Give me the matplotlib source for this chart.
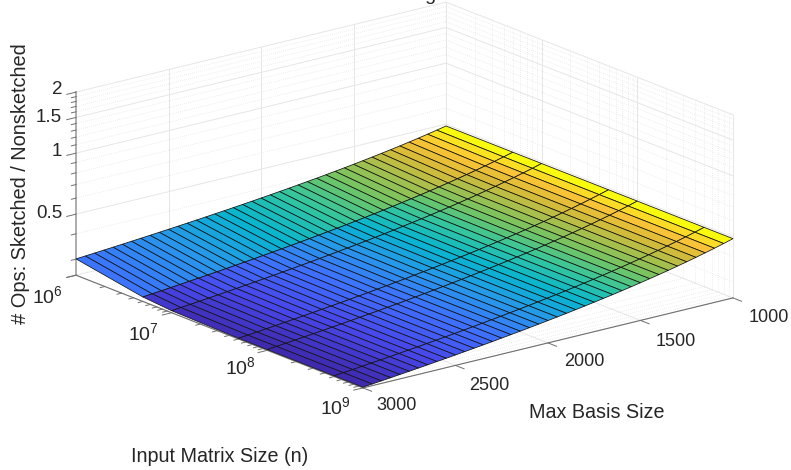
import numpy as np
import matplotlib
matplotlib.use('Agg')
import matplotlib.pyplot as plt
from matplotlib.colors import LinearSegmentedColormap

# values
basis_sizes = list(range(1000, 3001, 50))
log_n_values = [6.0, 6.699, 7.0, 7.699, 8.0, 8.699, 9.0]

ratio_n_1e6 = [.4900, .4795, .4697, .4605, .4519, .4438, .4361, .4289, .4220, .4155, .4093,
               .4034, .3977, .3923, .3871, .3822, .3775, .3729, .3685, .3643, .3602,
               .3563, .3525, .3488, .3453, .3419, .3385, .3353, .3322, .3291, .3262,
               .3234, .3206, .3179, .3153, .3127, .3102, .3078, .3054, .3031, .3009]
ratio_n_5e6 = [.4900, .4766, .4643, .4528, .4419, .4318, .4224, .4134, .4050, .3971, .3895,
               .3824, .3755, .3690, .3628, .3570, .3513, .3459, .3407, .3357, .3310,
               .3264, .3220, .3177, .3136, .3096, .3058, .3021, .2985, .2950, .2917,
               .2884, .2853, .2822, .2793, .2764, .2736, .2708, .2682, .2657, .2631]
ratio_n_1e7 = [.4900, .4760, .4632, .4512, .4399, .4294, .4197, .4103, .4016, .3934, .3856,
               .3782, .3711, .3644, .3581, .3521, .3461, .3406, .3353, .3302, .3254,
               .3206, .3161, .3117, .3075, .3034, .2995, .2957, .2921, .2885, .2851,
               .2818, .2786, .2754, .2725, .2695, .2666, .2638, .2612, .2586, .2560]
ratio_n_large = [.4900, .4757, .4626, .4503, .4388, .4281, .4181, .4086, .3997, .3914, .3834,
                 .3759, .3687, .3619, .3554, .3493, .3433, .3377, .3323, .3271, .3222,
                 .3174, .3128, .3084, .3041, .3000, .2960, .2922, .2885, .2849, .2815,
                 .2781, .2749, .2717, .2687, .2657, .2628, .2600, .2573, .2547, .2521]

basis_ticks = [1000, 1500, 2000, 2500, 3000]
n_major = [6, 7, 8, 9]
n_minor_factors = [2, 3, 4, 5, 6, 7, 8, 9]
z_major = [0.5, 1, 1.5, 2]
z_minor = [.3, .4, .6, .7, .8, .9, 1.1, 1.2, 1.3, 1.4, 1.6, 1.7, 1.8, 1.9]
z_bottom = 0.25

# parula, warm end adjusted by eye
parula = LinearSegmentedColormap.from_list('parula', [
    (0.2422, 0.1504, 0.6603), (0.2803, 0.2782, 0.9221), (0.2440, 0.4358, 0.9988),
    (0.1540, 0.5902, 0.9218), (0.0297, 0.7082, 0.8163), (0.1938, 0.7758, 0.6251),
    (0.4420, 0.7700, 0.3900), (0.6500, 0.7500, 0.3000), (0.8500, 0.7300, 0.2200),
    (0.9900, 0.7700, 0.2100), (0.9763, 0.9831, 0.0538)])

W, H = 791, 470
plt.rcParams['font.family'] = 'Liberation Sans'
plt.rcParams['mathtext.fontset'] = 'custom'
plt.rcParams['mathtext.rm'] = 'Liberation Sans'
plt.rcParams['mathtext.default'] = 'regular'

fig = plt.figure(figsize=(W / 100, H / 100), dpi=100)
side = W
cx, cy = 393.8, 264.3
ax = fig.add_axes([(cx - side / 2) / W, (cy - side / 2) / H, side / W, side / H], projection='3d')
ax.set_proj_type('ortho')
ax.set_box_aspect((470.8, 464, 192.5), zoom=0.845)
ax.view_init(elev=18, azim=51.8)
ax.set_axis_off()
ax.patch.set_alpha(0)
ax.computed_zorder = False

zlow, ztop = np.log10(z_bottom), np.log10(2)
ax.set_xlim(1000, 3000)
ax.set_ylim(6, 9)
ax.set_zlim(zlow, ztop)

n_minor = [d + np.log10(f) for d in n_major[:-1] for f in n_minor_factors]
major = dict(color='#e6e6e6', lw=0.7, zorder=1)
minor = dict(color='#dedede', lw=0.5, ls=(0, (1, 2)), zorder=1)

# grid on the two back walls and the floor
for b in basis_ticks:
    ax.plot([b, b], [6, 6], [zlow, ztop], **major)
    ax.plot([b, b], [6, 9], [zlow, zlow], **major)
for d in n_major:
    ax.plot([1000, 1000], [d, d], [zlow, ztop], **major)
    ax.plot([1000, 3000], [d, d], [zlow, zlow], **major)
for d in n_minor:
    ax.plot([1000, 1000], [d, d], [zlow, ztop], **minor)
    ax.plot([1000, 3000], [d, d], [zlow, zlow], **minor)
for z, style in [(z, major) for z in z_major] + [(z, minor) for z in z_minor]:
    lz = np.log10(z)
    ax.plot([1000, 3000], [6, 6], [lz, lz], **style)
    ax.plot([1000, 1000], [6, 9], [lz, lz], **style)

# axis lines and ticks
ax.plot([3000, 3000], [6, 6], [zlow, ztop], color='#a8a8a8', lw=1.3, zorder=2)
ax.plot([3000, 3000], [6, 9], [zlow, zlow], color='#707070', lw=0.8, zorder=2)
ax.plot([1000, 3000], [9, 9], [zlow, zlow], color='#707070', lw=0.8, zorder=2)
tick = dict(color='#707070', lw=0.7, zorder=2)
for z in [z_bottom] + z_major:
    ax.plot([3000, 3050], [6, 6], [np.log10(z)] * 2, **tick)
for z in z_minor:
    ax.plot([3000, 3025], [6, 6], [np.log10(z)] * 2, **tick)
for d in n_major:
    ax.plot([3000, 3050], [d, d], [zlow, zlow], **tick)
for d in n_minor:
    ax.plot([3000, 3025], [d, d], [zlow, zlow], **tick)
for b in basis_ticks:
    ax.plot([b, b], [9, 9.09], [zlow, zlow], **tick)

# surface
columns = [ratio_n_1e6, ratio_n_5e6, ratio_n_1e7, ratio_n_large, ratio_n_large, ratio_n_large, ratio_n_large]
ratio = np.array(columns).T
B, N = np.meshgrid(basis_sizes, log_n_values, indexing='ij')
face = parula((ratio - ratio.min()) / (ratio.max() - ratio.min()))
ax.plot_surface(B, N, np.log10(ratio), facecolors=face, shade=False, rstride=1, cstride=1,
                edgecolor='#141414', linewidth=0.55, antialiased=True, zorder=3)


def px_text(x, y, s, **kw):
    kw.setdefault('ha', 'center')
    kw.setdefault('va', 'center')
    kw.setdefault('fontsize', 13)
    kw.setdefault('color', '#262626')
    fig.text(x / W, 1 - y / H, s, **kw)


# tick labels
for label, y in zip(['2', '1.5', '1', '0.5'], [90, 117, 151, 213]):
    px_text(62, y, label, ha='right', fontsize=13.5)
for d, x, y in zip(n_major, [47, 143, 240, 335], [296, 333, 367, 407]):
    px_text(x, y, '$10^{%d}$' % d, fontsize=14)
for b, x, y in zip(basis_ticks, [769, 676, 584, 489.5, 397], [318, 341, 361, 385, 406]):
    px_text(x, y, str(b))

# axis labels, the title is cut off by the top edge in the original
px_text(597, 412, 'Max Basis Size', fontsize=14.2)
px_text(220, 456, 'Input Matrix Size (n)', fontsize=14.2)
px_text(21, 184, '# Ops: Sketched / Nonsketched', rotation=90, fontsize=14.4)
px_text(403, -0.3, 'Cost of Sketching in  Solver', va='baseline', fontsize=14)

fig.savefig('out.png', dpi=100)
